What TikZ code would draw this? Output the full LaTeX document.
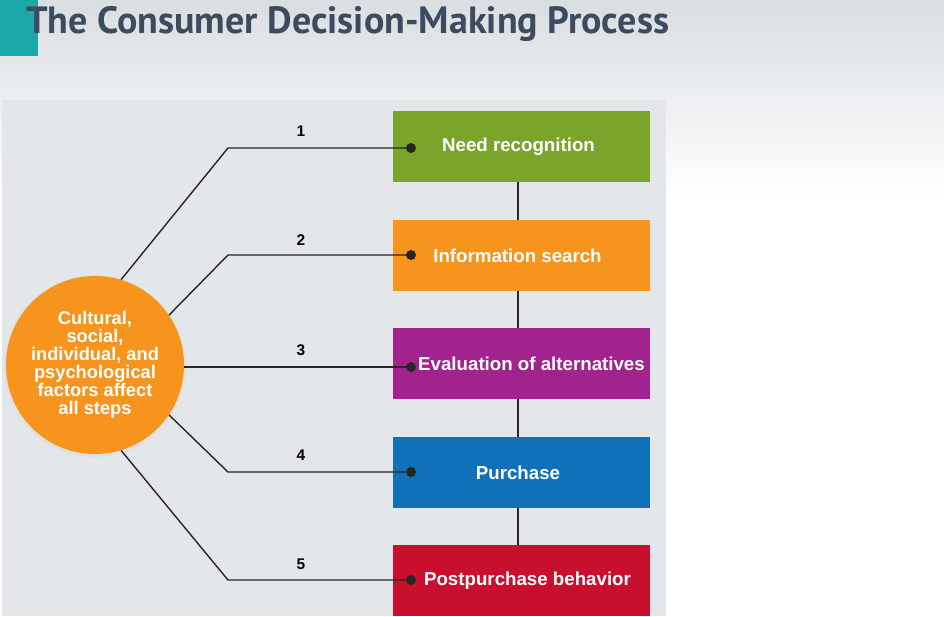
\documentclass[tikz,border=0pt]{standalone}
\usepackage{fontspec}
\setmainfont{Liberation Sans}
\newfontfamily\titlefont{PT Sans}
\usetikzlibrary{positioning,calc}
\definecolor{needgreen}{HTML}{7AA52A}
\definecolor{searchorange}{HTML}{F7941D}
\definecolor{evalpurple}{HTML}{A3238E}
\definecolor{buyblue}{HTML}{1071BA}
\definecolor{postred}{HTML}{C8102E}
\definecolor{titleslate}{HTML}{3D4B5F}
\definecolor{barteal}{HTML}{1AA7A7}
\definecolor{panel}{HTML}{E3E7EA}
\definecolor{topgray}{HTML}{D9DEE1}

\begin{document}
\begin{tikzpicture}[
  x=0.025cm, y=-0.025cm,
  every node/.style={font=\bfseries},
  stepbox/.style n args={2}{
    fill=#1, text=white, minimum width=6.425cm, minimum height=1.775cm,
    inner sep=0pt, font=\bfseries\fontsize{13.3}{15}\selectfont,
    execute at begin node=\hspace*{#2},
  },
  link/.style={line width=1pt, black!85},
  dot/.style={circle, fill=black!85, minimum size=0.25cm, inner sep=0pt},
  num/.style={font=\bfseries\fontsize{11}{13}\selectfont},
]
  % background
  \shade[top color=topgray, bottom color=white] (0,0) rectangle (944,200);
  \fill[white] (0,200) rectangle (944,616);
  \fill[panel] (2,100) rectangle (666,616);
  \fill[barteal] (0,0) rectangle (38,56);
  \node[anchor=base west, text=titleslate, inner sep=0pt,
    font=\titlefont\bfseries\fontsize{27}{30}\selectfont] (title) at (26,33)
    {The Consumer Decision-Making Process};

  % steps
  \node[stepbox={needgreen}{-0.15cm}] (s1) at (521.5,146.5) {Need recognition};
  \node[stepbox={searchorange}{-0.2cm}] (s2) at (521.5,255.5) {Information search};
  \node[stepbox={evalpurple}{0.5cm}] (s3) at (521.5,363.5) {Evaluation of alternatives};
  \node[stepbox={buyblue}{-0.175cm}] (s4) at (521.5,472.5) {Purchase};
  \node[stepbox={postred}{0.3cm}] (s5) at (521.5,580.5) {Postpurchase behavior};

  \draw[link] ([xshift=-0.0875cm]s1.south) -- ([xshift=-0.0875cm]s2.north);
  \draw[link] ([xshift=-0.0875cm]s2.south) -- ([xshift=-0.0875cm]s3.north);
  \draw[link] ([xshift=-0.0875cm]s3.south) -- ([xshift=-0.0875cm]s4.north);
  \draw[link] ([xshift=-0.0875cm]s4.south) -- ([xshift=-0.0875cm]s5.north);

  % factors circle
  \fill[black!12] (95,366) circle[radius=91];
  \node[circle, fill=searchorange, text=white, minimum size=4.45cm, inner sep=0pt,
    align=center, font=\bfseries\fontsize{13}{12.8}\selectfont] (factors) at (95,365)
    {Cultural,\\social,\\individual, and\\psychological\\factors affect\\all steps};

  % dots and bends
  \node[dot] (d1) at (411,148) {};
  \node[dot] (d2) at (411,255) {};
  \node[dot] (d3) at (411,367) {};
  \node[dot] (d4) at (411,472) {};
  \node[dot] (d5) at (411,580) {};
  \coordinate (b1) at (228,148);
  \coordinate (b2) at (228,255);
  \coordinate (b4) at (228,472);
  \coordinate (b5) at (228,580);

  \draw[link] (factors.73) -- (b1) -- (d1.center);
  \draw[link] (factors.34) -- (b2) -- (d2.center);
  \draw[link] (factors.east |- d3) -- (d3.center);
  \draw[link] (factors.-34) -- (b4) -- (d4.center);
  \draw[link] (factors.-73) -- (b5) -- (d5.center);

  \node[num] (n1) at (301,131) {1};
  \node[num] (n2) at (301,240) {2};
  \node[num] (n3) at (301,350) {3};
  \node[num] (n4) at (301,455) {4};
  \node[num] (n5) at (301,564) {5};

  \useasboundingbox (0,0) rectangle (944,616);
\end{tikzpicture}
\end{document}
